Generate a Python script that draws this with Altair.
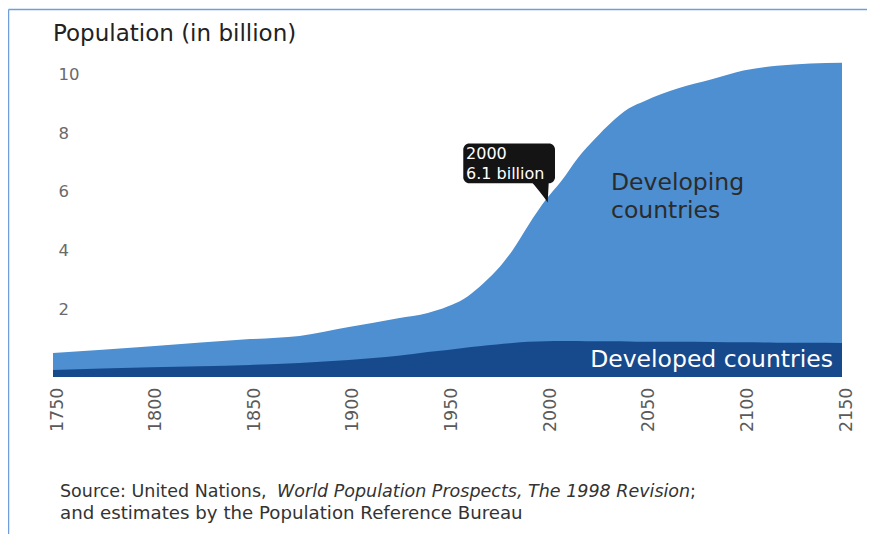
import altair as alt
import pandas as pd

# ---- data (billions) ----
years = [1750, 1800, 1850, 1875, 1900, 1925, 1940, 1950, 1958, 1966, 1975, 1983,
         1991, 2000, 2008, 2016, 2025, 2033, 2042, 2050, 2067, 2084, 2100, 2117,
         2134, 2150]
developed = [0.24, 0.33, 0.41, 0.48, 0.58, 0.72, 0.85, 0.92, 0.99, 1.05, 1.11, 1.16,
             1.20, 1.22, 1.23, 1.23, 1.22, 1.22, 1.21, 1.20, 1.20, 1.19, 1.18, 1.17,
             1.17, 1.16]
developing = [0.58, 0.72, 0.88, 0.92, 1.12, 1.28, 1.33, 1.48, 1.66, 2.01, 2.53, 3.16,
              3.97, 4.83, 5.47, 6.22, 6.91, 7.45, 7.94, 8.20, 8.63, 8.95, 9.26, 9.43,
              9.51, 9.54]
x_ticks = [1750, 1800, 1850, 1900, 1950, 2000, 2050, 2100, 2150]
y_ticks = [2, 4, 6, 8, 10]

title_text = "Population (in billion)"
callout_lines = ["2000", "6.1 billion"]
callout_box = {"x0": 1958, "x1": 2004.5, "y0": 6.6, "y1": 7.95}
callout_tail = {"x": 1996.9, "y": 6.30}
callout_text_pos = {"x": 1959.4, "y": [7.6, 6.92]}
developing_label = ["Developing", "countries"]
developing_label_pos = {"x": 2032.9, "y": [6.61, 5.65]}
developed_label = "Developed countries"
developed_label_pos = {"x": 2145.4, "y": 0.58}
source_a = "Source: United Nations, "
source_b = "World Population Prospects, The 1998 Revision"
source_c = ";"
source_d = "and estimates by the Population Reference Bureau"

LIGHT = "#4d8fd0"
DARK = "#17498d"
FONT = "DejaVu Sans"

W, H = 789, 323

df = pd.DataFrame({"year": years, "developed": developed, "developing": developing})
df["total"] = df["developed"] + df["developing"]

xs = alt.Scale(domain=[1750, 2150], nice=False, zero=False)
ys = alt.Scale(domain=[0, 11], nice=False)

base = alt.Chart(df)

x_axis = alt.Axis(values=x_ticks, format="d", labelAngle=270, labelAlign="right",
                  labelBaseline="middle", labelPadding=10, labelOffset=4,
                  ticks=False, tickSize=0, domain=False, grid=False,
                  labelFont=FONT, labelFontSize=17.5, labelColor="#5a5a5a", title=None)
y_axis = alt.Axis(values=y_ticks, labelAlign="left", labelPadding=-5, labelOffset=-9,
                  ticks=False, tickSize=0, domain=False, grid=False,
                  labelFont=FONT, labelFontSize=16.5, labelColor="#6a6a6a", title=None)

area_total = base.mark_area(color=LIGHT, interpolate="monotone").encode(
    x=alt.X("year:Q", scale=xs, axis=x_axis),
    y=alt.Y("total:Q", scale=ys, axis=y_axis),
    y2=alt.datum(0),
)
area_dev = base.mark_area(color=DARK, interpolate="monotone").encode(
    x=alt.X("year:Q", scale=xs),
    y=alt.Y("developed:Q", scale=ys),
    y2=alt.datum(0),
)

box_df = pd.DataFrame([callout_box])
box = alt.Chart(box_df).mark_rect(color="#141414", cornerRadius=6).encode(
    x=alt.X("x0:Q", scale=xs), x2="x1:Q",
    y=alt.Y("y0:Q", scale=ys), y2="y1:Q",
)
tail = alt.Chart(pd.DataFrame([callout_tail])).mark_point(
    shape="M -0.8 -0.95 L 0.8 -0.95 L 0.7 0.95 Q 0.1 0.1 -0.8 -0.95 Z",
    filled=True, color="#141414", opacity=1, size=480, strokeWidth=0,
).encode(x=alt.X("x:Q", scale=xs), y=alt.Y("y:Q", scale=ys))

ct_df = pd.DataFrame({"t": callout_lines, "x": [callout_text_pos["x"]] * 2,
                      "y": callout_text_pos["y"]})
callout_txt = alt.Chart(ct_df).mark_text(
    align="left", baseline="middle", color="white", font="DejaVu Sans", fontSize=16
).encode(x=alt.X("x:Q", scale=xs), y=alt.Y("y:Q", scale=ys), text="t:N")

dl_df = pd.DataFrame({"t": developing_label, "x": [developing_label_pos["x"]] * 2,
                      "y": developing_label_pos["y"]})
dev_txt = alt.Chart(dl_df).mark_text(
    align="left", baseline="middle", color="#2b2b2b", font=FONT, fontSize=23.5
).encode(x=alt.X("x:Q", scale=xs), y=alt.Y("y:Q", scale=ys), text="t:N")

dd_df = pd.DataFrame({"t": [developed_label], "x": [developed_label_pos["x"]],
                      "y": [developed_label_pos["y"]]})
ded_txt = alt.Chart(dd_df).mark_text(
    align="right", baseline="middle", color="white", font=FONT, fontSize=23.5
).encode(x=alt.X("x:Q", scale=xs), y=alt.Y("y:Q", scale=ys), text="t:N")

one = pd.DataFrame({"a": [0]})
title = alt.Chart(one).mark_text(
    align="left", baseline="middle", color="#222222", font=FONT, fontSize=23,
    text=title_text).encode(x=alt.value(0), y=alt.value(-20))

src_style = dict(baseline="middle", color="#333333", font=FONT, align="left")
src1 = alt.Chart(one).mark_text(text=source_a, fontSize=17.5, **src_style).encode(
    x=alt.value(7), y=alt.value(438))
src2 = alt.Chart(one).mark_text(text=source_b, fontStyle="italic", fontSize=17.5,
                                **src_style).encode(x=alt.value(224), y=alt.value(438))
src3 = alt.Chart(one).mark_text(text=source_c, fontSize=17.5, **src_style).encode(
    x=alt.value(637), y=alt.value(438))
src4 = alt.Chart(one).mark_text(text=source_d, fontSize=18.2, **src_style).encode(
    x=alt.value(7), y=alt.value(460))

frame_v = alt.Chart(one).mark_rule(color="#6e9fdb", strokeWidth=1.5).encode(
    x=alt.value(-44.5), y=alt.value(-44.5), y2=alt.value(H + 160))
frame_h = alt.Chart(one).mark_rule(color="#6e9fdb", strokeWidth=1.5).encode(
    x=alt.value(-44.5), x2=alt.value(W + 30), y=alt.value(-44.5))

chart = alt.layer(
    area_total, area_dev, box, tail, callout_txt, dev_txt, ded_txt,
    title, src1, src2, src3, src4, frame_v, frame_h,
).properties(
    width=W, height=H,
    autosize=alt.AutoSizeParams(type="none"),
    padding={"left": 45, "top": 46, "right": 25, "bottom": 157},
    background="white",
).configure_view(stroke=None)

chart.save("out.html", embed_options={"renderer": "svg", "actions": False})
